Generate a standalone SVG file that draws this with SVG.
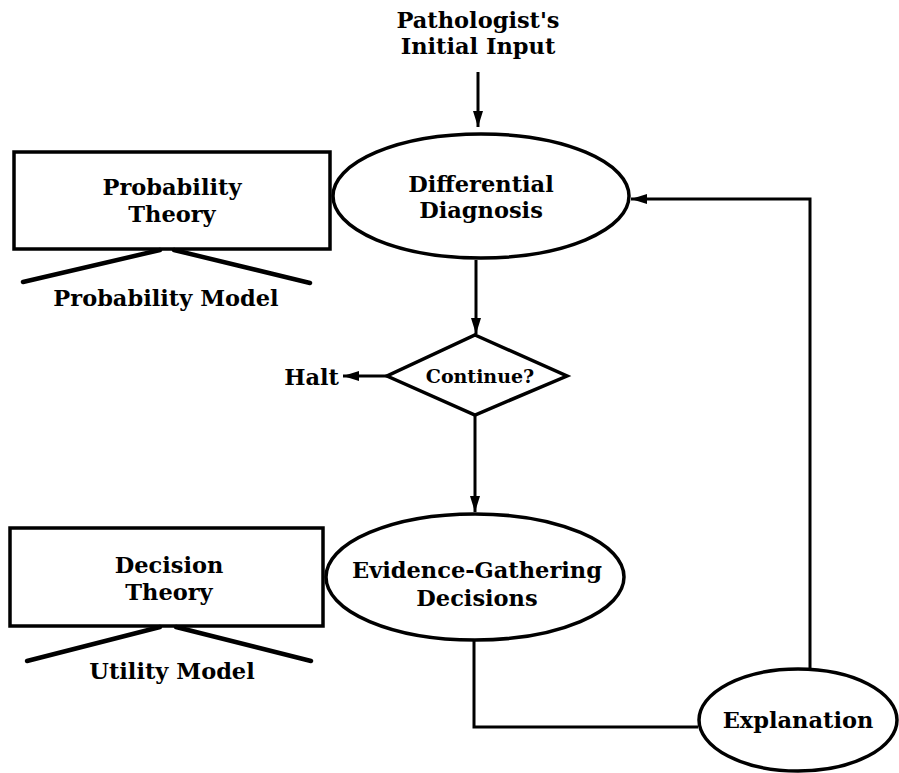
<svg xmlns="http://www.w3.org/2000/svg" width="899" height="773" viewBox="0 0 899 773">
<style>
text{font-family:"DejaVu Serif","Liberation Serif",serif;font-weight:bold;fill:#000;text-anchor:middle;font-size:22.5px}
.sm{font-size:19px}
.shape{fill:#fff;stroke:#000;stroke-width:3.5}
.line{fill:none;stroke:#000;stroke-width:3}
.leg{stroke:#000;stroke-width:4.5;stroke-linecap:round}
</style>
<defs>
<marker id="arr" viewBox="0 0 16 10" refX="16" refY="5" markerWidth="16" markerHeight="10" markerUnits="userSpaceOnUse" orient="auto">
<path d="M0,0 L16,5 L0,10 z" fill="#000"/>
</marker>
</defs>
<rect width="899" height="773" fill="#fff"/>
<g id="connectors">
<line class="line" x1="478" y1="72" x2="478" y2="127" marker-end="url(#arr)"/>
<line class="line" x1="476" y1="260" x2="476" y2="334" marker-end="url(#arr)"/>
<line class="line" x1="387" y1="376" x2="343" y2="376" marker-end="url(#arr)"/>
<line class="line" x1="475" y1="416" x2="475" y2="512" marker-end="url(#arr)"/>
<polyline class="line" points="474,641 474,727 698,727"/>
<polyline class="line" points="810,668 810,199 631,199" marker-end="url(#arr)"/>
</g>
<g id="input">
<text x="478" y="28">Pathologist's</text>
<text x="478" y="54">Initial Input</text>
</g>
<g id="probability-theory">
<rect class="shape" x="14" y="152" width="316" height="97"/>
<text x="172" y="195">Probability</text>
<text x="172" y="222">Theory</text>
<line class="leg" x1="160" y1="250" x2="23" y2="282"/>
<line class="leg" x1="174" y1="250" x2="310" y2="283"/>
<text x="166" y="306">Probability Model</text>
</g>
<g id="differential-diagnosis">
<ellipse class="shape" cx="481" cy="196" rx="148" ry="62"/>
<text x="481" y="192">Differential</text>
<text x="481" y="218">Diagnosis</text>
</g>
<g id="continue">
<polygon class="shape" points="475,335 567,376 475,415 387,376"/>
<text class="sm" x="480" y="383">Continue?</text>
</g>
<g id="halt">
<text x="339" y="385" style="text-anchor:end">Halt</text>
</g>
<g id="decision-theory">
<rect class="shape" x="10" y="528" width="313" height="98"/>
<text x="169" y="573">Decision</text>
<text x="169" y="600">Theory</text>
<line class="leg" x1="160" y1="627" x2="27" y2="661"/>
<line class="leg" x1="176" y1="627" x2="311" y2="661"/>
<text x="172" y="679">Utility Model</text>
</g>
<g id="evidence-gathering">
<ellipse class="shape" cx="475" cy="577" rx="149" ry="63"/>
<text x="477" y="578">Evidence-Gathering</text>
<text x="477" y="606">Decisions</text>
</g>
<g id="explanation">
<ellipse class="shape" cx="798" cy="720" rx="99" ry="51"/>
<text x="798" y="728">Explanation</text>
</g>
</svg>
